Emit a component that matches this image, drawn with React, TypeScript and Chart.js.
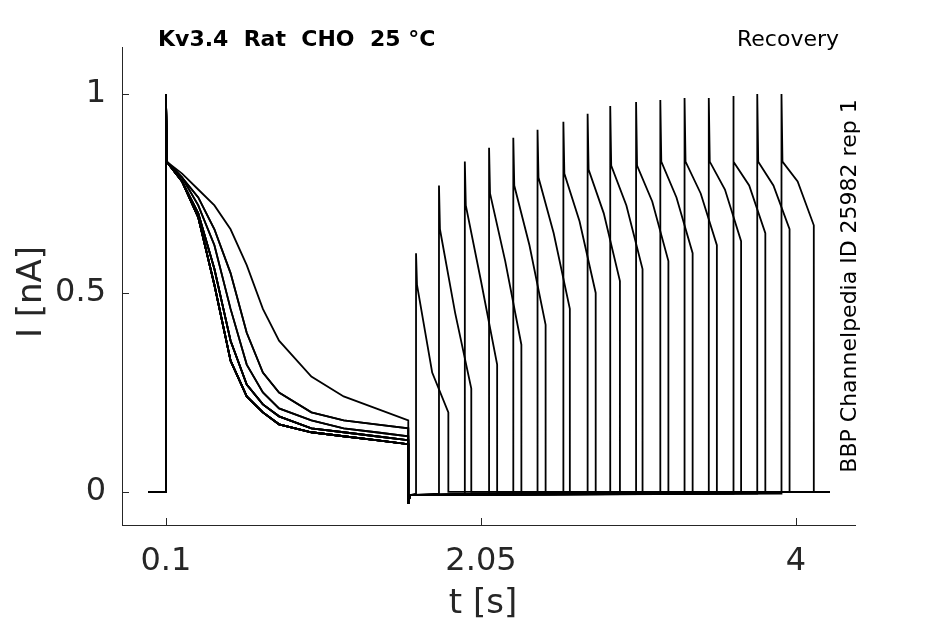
import React, { useEffect, useRef } from "react";
import { Chart, registerables } from "chart.js";
Chart.register(...registerables);

// first-pulse decay grid (s) and shapes (nA)
const firstTimes = [0.1, 0.2, 0.3, 0.4, 0.5, 0.6, 0.7, 0.8, 1.0, 1.2, 1.4, 1.6];
const shapeFast = [0.83, 0.78, 0.69, 0.52, 0.33, 0.24, 0.2, 0.17, 0.15, 0.14, 0.13, 0.12];
const shapeMid1 = [0.83, 0.78, 0.70, 0.56, 0.38, 0.27, 0.22, 0.19, 0.16, 0.15, 0.14, 0.13];
const shapeMid2 = [0.83, 0.79, 0.72, 0.62, 0.46, 0.32, 0.25, 0.21, 0.18, 0.16, 0.15, 0.14];
const shapeMid3 = [0.83, 0.79, 0.74, 0.66, 0.55, 0.40, 0.30, 0.25, 0.20, 0.18, 0.17, 0.16];
const shapeSlow = [0.83, 0.80, 0.76, 0.72, 0.66, 0.57, 0.46, 0.38, 0.29, 0.24, 0.21, 0.18];
const firstShapeIndex = [0, 0, 0, 0, 0, 0, 1, 1, 1, 0, 1, 2, 2, 3, 3, 4];

// second pulses
const pulseStarts = [1.648, 1.79, 1.95, 2.10, 2.25, 2.40, 2.56, 2.71, 2.85, 3.01, 3.16, 3.31, 3.46, 3.61, 3.76, 3.91];
const pulsePeaks = [0.60, 0.77, 0.83, 0.865, 0.89, 0.91, 0.93, 0.95, 0.97, 0.98, 0.985, 0.99, 0.99, 0.995, 1.0, 1.0];
const pulseStartVals = [0.52, 0.66, 0.72, 0.75, 0.77, 0.79, 0.80, 0.81, 0.82, 0.82, 0.83, 0.83, 0.83, 0.83, 0.83, 0.83];
const pulseMids = [0.30, 0.45, 0.53, 0.58, 0.62, 0.65, 0.68, 0.70, 0.72, 0.73, 0.74, 0.75, 0.76, 0.77, 0.77, 0.78];
const pulseEnds = [0.20, 0.26, 0.32, 0.37, 0.42, 0.46, 0.50, 0.53, 0.56, 0.58, 0.60, 0.62, 0.63, 0.65, 0.66, 0.67];
const pulseDuration = 0.2;
const baselineStart = -0.01;
const baselineEnd = 4.21;
const postDip = -0.008;

const xTicks = [0.1, 2.05, 4];
const yTicks = [0, 0.5, 1];

const shapes = [shapeFast, shapeMid1, shapeMid2, shapeMid3, shapeSlow];

function buildTrace(i: number) {
  const s = shapes[firstShapeIndex[i]];
  const pts: { x: number; y: number }[] = [];
  pts.push({ x: baselineStart, y: 0 }, { x: 0.1, y: 0 }, { x: 0.1, y: 1.0 });
  firstTimes.forEach((t, k) => pts.push({ x: t + (k === 0 ? 0.005 : 0), y: s[k] }));
  pts.push({ x: 1.6, y: -0.03 }, { x: 1.61, y: postDip });
  const ps = pulseStarts[i];
  const pe = ps + pulseDuration;
  pts.push({ x: ps, y: postDip * 0.5 }, { x: ps, y: pulsePeaks[i] }, { x: ps + 0.006, y: pulseStartVals[i] });
  pts.push({ x: ps + pulseDuration / 2, y: pulseMids[i] }, { x: pe, y: pulseEnds[i] }, { x: pe, y: 0 });
  pts.push({ x: baselineEnd, y: 0 });
  return pts;
}

const FONT = "'DejaVu Sans', sans-serif";

const textPlugin = {
  id: "texts",
  afterDraw(chart: any) {
    const ctx = chart.ctx;
    const xs = chart.scales.x, ys = chart.scales.y;
    ctx.save();
    ctx.fillStyle = "#262626";
    ctx.font = `32px ${FONT}`;
    ctx.textBaseline = "middle";
    ctx.textAlign = "right";
    yTicks.forEach((v) => ctx.fillText(String(v), 106, ys.getPixelForValue(v)));
    ctx.textAlign = "center";
    xTicks.forEach((v) => ctx.fillText(String(v), xs.getPixelForValue(v), 562));
    ctx.font = `34px ${FONT}`;
    ctx.fillText("t [s]", 483, 604);
    ctx.save();
    ctx.translate(32, 292);
    ctx.rotate(-Math.PI / 2);
    ctx.fillText("I [nA]", 0, 0);
    ctx.restore();
    ctx.fillStyle = "#000";
    ctx.font = `bold 22px ${FONT}`;
    ctx.textAlign = "left";
    ctx.fillText("Kv3.4  Rat  CHO  25 °C", 158, 40);
    ctx.font = `22px ${FONT}`;
    ctx.textAlign = "right";
    ctx.fillText("Recovery", 839, 40);
    ctx.save();
    ctx.translate(850, 286);
    ctx.rotate(-Math.PI / 2);
    ctx.textAlign = "center";
    ctx.font = `22px ${FONT}`;
    ctx.fillText("BBP Channelpedia ID 25982 rep 1", 0, 0);
    ctx.restore();
    // inward ticks
    ctx.strokeStyle = "#262626";
    ctx.lineWidth = 1;
    xTicks.forEach((v) => {
      const p = Math.round(xs.getPixelForValue(v)) + 0.5;
      ctx.beginPath(); ctx.moveTo(p, 525); ctx.lineTo(p, 518); ctx.stroke();
    });
    yTicks.forEach((v) => {
      const p = Math.round(ys.getPixelForValue(v)) + 0.5;
      ctx.beginPath(); ctx.moveTo(122, p); ctx.lineTo(129, p); ctx.stroke();
    });
    ctx.restore();
  },
};

export default function App() {
  const ref = useRef<HTMLCanvasElement>(null);
  useEffect(() => {
    const datasets = pulseStarts.map((_, i) => ({
      data: buildTrace(i),
      borderColor: "#000",
      borderWidth: 1.8,
      pointRadius: 0,
      showLine: true,
      fill: false,
    }));
    const chart = new Chart(ref.current!, {
      type: "scatter",
      data: { datasets },
      plugins: [textPlugin],
      options: {
        animation: false,
        responsive: false,
        devicePixelRatio: 1,
        layout: { padding: { top: 47, right: 90, left: 0, bottom: 0 } },
        plugins: { legend: { display: false }, tooltip: { enabled: false } },
        scales: {
          x: {
            type: "linear", min: -0.172, max: 4.365,
            grid: { display: false, drawTicks: false },
            border: { display: true, color: "#262626" },
            ticks: { display: false },
            afterBuildTicks: (s: any) => { s.ticks = xTicks.map((v) => ({ value: v })); },
            afterFit: (s: any) => { s.height = 99; },
          },
          y: {
            min: -0.083, max: 1.118,
            grid: { display: false, drawTicks: false },
            border: { display: true, color: "#262626" },
            ticks: { display: false },
            afterBuildTicks: (s: any) => { s.ticks = yTicks.map((v) => ({ value: v })); },
            afterFit: (s: any) => { s.width = 122; },
          },
        },
      },
    });
    return () => chart.destroy();
  }, []);
  return (
    <div style={{ position: "absolute", left: 0, top: 0, background: "#fff" }}>
      <canvas ref={ref} width={945} height={624} style={{ display: "block" }} />
    </div>
  );
}
